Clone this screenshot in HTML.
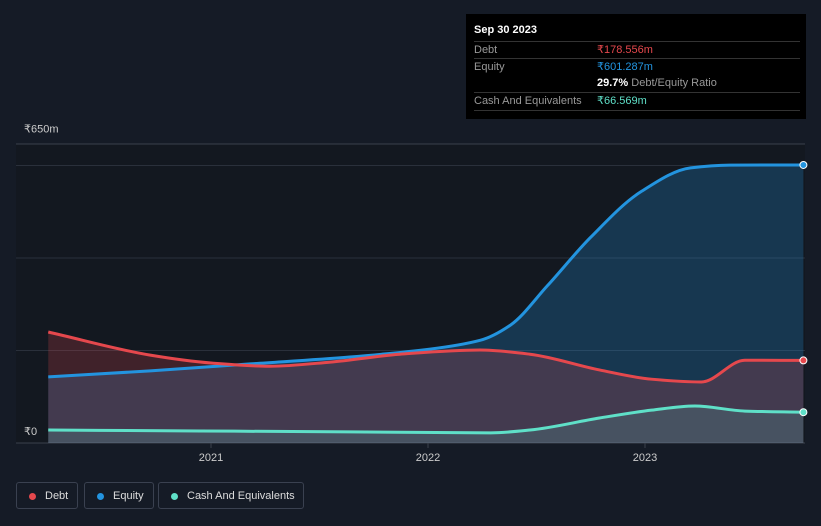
<!DOCTYPE html>
<html><head><meta charset="utf-8">
<style>
body{margin:0;background:#151b26;width:821px;height:526px;overflow:hidden;font-family:"Liberation Sans",sans-serif;}
#tip{position:absolute;left:466px;top:14px;width:340px;height:105px;background:#000;color:#fff;font-size:11px;}
.row{position:absolute;left:8px;width:326px;border-top:1px solid #333;height:17px;line-height:17px;color:#999;}
.v{position:absolute;left:123px;}
.legend{position:absolute;top:482px;height:27px;border:1px solid #3a4150;border-radius:3px;color:#ddd;font-size:11px;line-height:27px;box-sizing:border-box;padding-left:28px;}
.dot{position:absolute;left:12px;top:10px;width:7px;height:7px;border-radius:50%;}
</style></head><body>
<svg id="chart" width="821" height="526" style="position:absolute;left:0;top:0"></svg>
<div id="tip">
<div style="position:absolute;left:8px;top:10px;font-weight:bold;font-size:11px">Sep 30 2023</div>
<div class="row" style="top:27px">Debt<span class="v" style="color:#e5484d">₹178.556m</span></div>
<div class="row" style="top:44px">Equity<span class="v" style="color:#2394df">₹601.287m</span></div>
<div class="row" style="top:61px;border-top:none"><span class="v" style="color:#999"><b style="color:#fff">29.7%</b> Debt/Equity Ratio</span></div>
<div class="row" style="top:78px;border-bottom:1px solid #333">Cash And Equivalents<span class="v" style="color:#5fe0c8">₹66.569m</span></div>
</div>
<div class="legend" style="left:16px;width:62px"><span class="dot" style="background:#e5484d"></span>Debt</div>
<div class="legend" style="left:84px;width:70px"><span class="dot" style="background:#2394df"></span>Equity</div>
<div class="legend" style="left:158px;width:146px"><span class="dot" style="background:#5fe0c8"></span>Cash And Equivalents</div>
<script>
const debtT=[2020.25,2020.72,2021.0,2021.27,2021.55,2021.87,2022.24,2022.47,2022.79,2023.03,2023.26,2023.46,2023.73];
const debtV=[240,190,173,166,175,192,201,192,158,138,132,179,178.556];
const eqT=[2020.25,2020.72,2021.18,2021.64,2022.01,2022.24,2022.38,2022.55,2022.75,2022.98,2023.21,2023.39,2023.73];
const eqV=[143,156,171,186,203,222,255,340,445,543,595,601,601.287];
const cashT=[2020.25,2020.95,2021.64,2022.29,2022.47,2022.79,2023.03,2023.23,2023.46,2023.73];
const cashV=[28,26,24,22,28,54,71,80,69,66.569];
const yTicks=[0,650];const yTickLabels=["₹0","₹650m"];
const xTicks=[2021,2022,2023];
const grid=[200,400,600];
const X=t=>211+(t-2021)*217, Y=v=>443-v*0.4624;
const svg=document.getElementById('chart'),NS='http://www.w3.org/2000/svg';
function el(n,a){const e=document.createElementNS(NS,n);for(const k in a)e.setAttribute(k,a[k]);svg.appendChild(e);return e;}
function path(ts,vs){const p=ts.map((t,i)=>[X(t),Y(vs[i])]),n=p.length,m=[],d=[];
for(let i=0;i<n-1;i++)d.push((p[i+1][1]-p[i][1])/(p[i+1][0]-p[i][0]));
for(let i=0;i<n;i++){if(i==0)m.push(d[0]);else if(i==n-1)m.push(d[n-2]);else m.push(d[i-1]*d[i]<=0?0:(2/(1/d[i-1]+1/d[i])));}
let s='M'+p[0][0]+','+p[0][1];
for(let i=0;i<n-1;i++){const h=(p[i+1][0]-p[i][0])/3;s+=`C${p[i][0]+h},${p[i][1]+m[i]*h} ${p[i+1][0]-h},${p[i+1][1]-m[i+1]*h} ${p[i+1][0]},${p[i+1][1]}`;}
return s;}
let r=el('rect',{x:16,y:144,width:789,height:299,fill:'#131820'});

el('line',{x1:16,x2:805,y1:144,y2:144,stroke:'#3a404c'});
grid.forEach(g=>{const l=el('line',{x1:16,x2:805,y1:Y(g),y2:Y(g),stroke:'#2a303b'});});
el('line',{x1:16,x2:805,y1:443,y2:443,stroke:'#3a404c'});
const base=(ts)=>`L${X(ts[ts.length-1])},443L${X(ts[0])},443Z`;
const series=[[eqT,eqV,'#2394df','rgba(35,148,223,0.25)','equity'],[debtT,debtV,'#e5484d','rgba(229,72,77,0.22)','debt'],[cashT,cashV,'#5fe0c8','rgba(95,224,200,0.15)','cash']];
series.forEach(([t,v,c,f,n])=>{const a=el('path',{d:path(t,v)+base(t),fill:f});});
series.forEach(([t,v,c,f,n])=>{const l=el('path',{d:path(t,v),fill:'none',stroke:c,'stroke-width':3});
const d=el('circle',{cx:X(t[t.length-1]),cy:Y(v[v.length-1]),r:3.5,fill:c,stroke:'#fff','stroke-width':1});});
yTicks.forEach((v,i)=>{const t=el('text',{x:24,y:i?Y(v)-10:Y(v)-8,fill:'#ccc','font-size':11});t.textContent=yTickLabels[i];});
xTicks.forEach(v=>{const t=el('text',{x:X(v),y:461,fill:'#ccc','font-size':11,'text-anchor':'middle'});t.textContent=v;
el('line',{x1:X(v),x2:X(v),y1:443,y2:448,stroke:'#3a404c'});});
</script>
</body></html>
